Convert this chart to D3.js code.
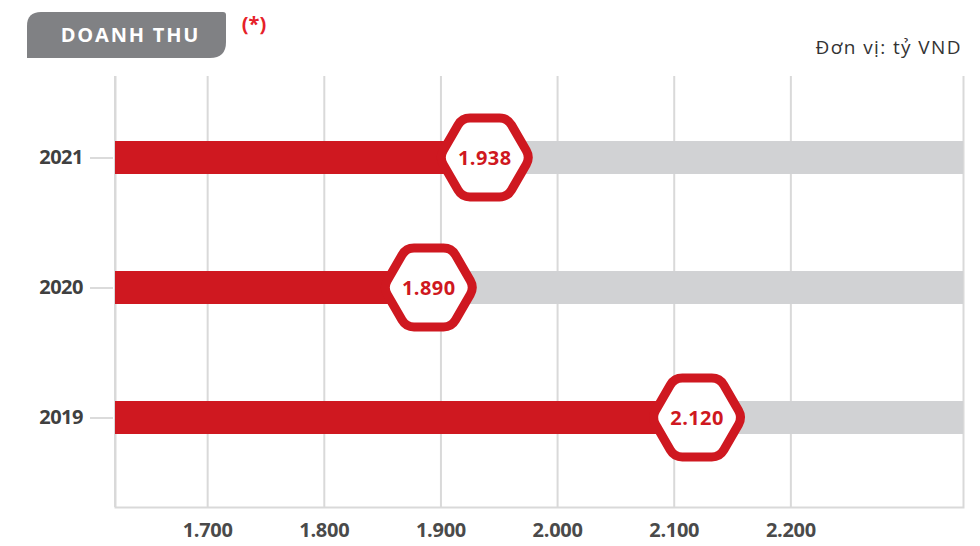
<!DOCTYPE HTML>
<html>
<head>
<meta charset="utf-8">
<script src="https://cdn.jsdelivr.net/npm/d3@7"></script>
<style>
  body { margin: 0; background: #fff; }
  svg { display: block; font-family: "Open Sans", sans-serif; }
</style>
</head>
<body>
<svg id="chart" width="980" height="546"></svg>

<script>
// data
const years = ["2021", "2020", "2019"];
const revenue = [1938, 1890, 2120];
const xTicks = [1700, 1800, 1900, 2000, 2100, 2200];
const xDomain = [1621, 2348];

const title = "DOANH THU";
const unitLabel = "Đơn vị: tỷ VND";

const red = "#cf1820";
const grey = "#d1d2d4";
const gridGrey = "#d9d9d9";
const font = "'Open Sans', sans-serif";

const svg = d3.select("#chart");

// vietnamese style grouping: 1.700
const vn = d3.formatLocale({ decimal: ",", thousands: ".", grouping: [3], currency: ["", " ₫"] });
const fmt = vn.format(",d");

const plotLeft = 115, plotRight = 963, plotTop = 76, plotBottom = 507;

const x = d3.scaleLinear().domain(xDomain).range([plotLeft, plotRight]);
const y = d3.scalePoint().domain(years).range([157.5, 417.5]);
const barH = 33;

// gridlines + bottom axis
const xAxis = d3.axisBottom(x)
  .tickValues(xTicks)
  .tickFormat(fmt)
  .tickSize(-(plotBottom - plotTop))
  .tickPadding(16);

const gx = svg.append("g")
  .attr("transform", `translate(0,${plotBottom})`)
  .call(xAxis)
  .attr("font-family", font);
gx.select(".domain").attr("stroke", gridGrey).attr("stroke-width", 2);
gx.selectAll(".tick line").attr("stroke", gridGrey).attr("stroke-width", 2);
gx.selectAll(".tick text")
  .attr("fill", "#4a4a4a")
  .style("font-size", "20px")
  .style("font-weight", 700)
  .style("letter-spacing", "-0.3px");

// left edge line
svg.append("line")
  .attr("x1", plotLeft).attr("x2", plotLeft)
  .attr("y1", plotTop).attr("y2", plotBottom)
  .attr("stroke", gridGrey).attr("stroke-width", 2);

// year axis
const yAxis = d3.axisLeft(y).tickSize(23).tickPadding(7);
const gy = svg.append("g")
  .attr("transform", `translate(${plotLeft - 2},0)`)
  .call(yAxis)
  .attr("font-family", font);
gy.select(".domain").remove();
gy.selectAll(".tick line").attr("stroke", "#cfcfcf").attr("stroke-width", 1.5);
gy.selectAll(".tick text")
  .attr("fill", "#404040")
  .style("font-size", "20px")
  .style("font-weight", 700)
  .style("letter-spacing", "-0.5px");

const rows = years.map((yr, i) => ({ year: yr, value: revenue[i] }));

// grey track
svg.append("g").selectAll("rect")
  .data(rows)
  .join("rect")
  .attr("x", x(xDomain[0]))
  .attr("y", d => y(d.year) - barH / 2)
  .attr("width", x(xDomain[1]) - x(xDomain[0]))
  .attr("height", barH)
  .attr("fill", grey);

// red value bar
svg.append("g").selectAll("rect")
  .data(rows)
  .join("rect")
  .attr("x", x(xDomain[0]))
  .attr("y", d => y(d.year) - barH / 2)
  .attr("width", d => x(d.value) - x(xDomain[0]))
  .attr("height", barH)
  .attr("fill", red);

// rounded hexagon, points left and right
function hexPath(cx, cy, R, r) {
  const pts = d3.range(6).map(k => {
    const a = k * Math.PI / 3;
    return [cx + R * Math.cos(a), cy + R * Math.sin(a)];
  });
  const p = d3.path();
  for (let k = 0; k < 6; k++) {
    const prev = pts[(k + 5) % 6], cur = pts[k], next = pts[(k + 1) % 6];
    const t1 = r / R;
    const a = [cur[0] + (prev[0] - cur[0]) * t1, cur[1] + (prev[1] - cur[1]) * t1];
    const b = [cur[0] + (next[0] - cur[0]) * t1, cur[1] + (next[1] - cur[1]) * t1];
    if (k === 0) p.moveTo(a[0], a[1]); else p.lineTo(a[0], a[1]);
    p.quadraticCurveTo(cur[0], cur[1], b[0], b[1]);
  }
  p.closePath();
  return p.toString();
}

const badges = svg.append("g").selectAll("g")
  .data(rows)
  .join("g");

badges.append("path")
  .attr("d", d => hexPath(x(d.value), y(d.year), 45.5, 8))
  .attr("fill", "#fff")
  .attr("stroke", red)
  .attr("stroke-width", 9)
  .attr("stroke-linejoin", "round");

badges.append("text")
  .attr("x", d => x(d.value))
  .attr("y", d => y(d.year))
  .attr("dy", "0.36em")
  .attr("text-anchor", "middle")
  .attr("fill", red)
  .style("font-size", "20px")
  .style("font-weight", 700)
  .style("letter-spacing", "0.4px")
  .text(d => fmt(d.value));

// title tab
const tab = d3.path();
tab.moveTo(27, 58);
tab.lineTo(27, 26);
tab.quadraticCurveTo(27, 12, 41, 12);
tab.lineTo(223, 12);
tab.quadraticCurveTo(226, 12, 226, 15);
tab.lineTo(226, 42);
tab.quadraticCurveTo(226, 58, 210, 58);
tab.closePath();
svg.append("path").attr("d", tab.toString()).attr("fill", "#808184");

svg.append("text")
  .attr("x", 130.5).attr("y", 42)
  .attr("text-anchor", "middle")
  .attr("fill", "#fff")
  .style("font-size", "20px")
  .style("font-weight", 700)
  .style("letter-spacing", "1.8px")
  .text(title);

svg.append("text")
  .attr("x", 254).attr("y", 31)
  .attr("text-anchor", "middle")
  .attr("fill", "#e62129")
  .style("font-size", "20px")
  .style("font-weight", 700)
  .text("(*)");

svg.append("text")
  .attr("x", 962).attr("y", 54)
  .attr("text-anchor", "end")
  .attr("fill", "#333")
  .style("font-size", "19px")
  .style("letter-spacing", "1.4px")
  .text(unitLabel);
</script>
</body>
</html>
